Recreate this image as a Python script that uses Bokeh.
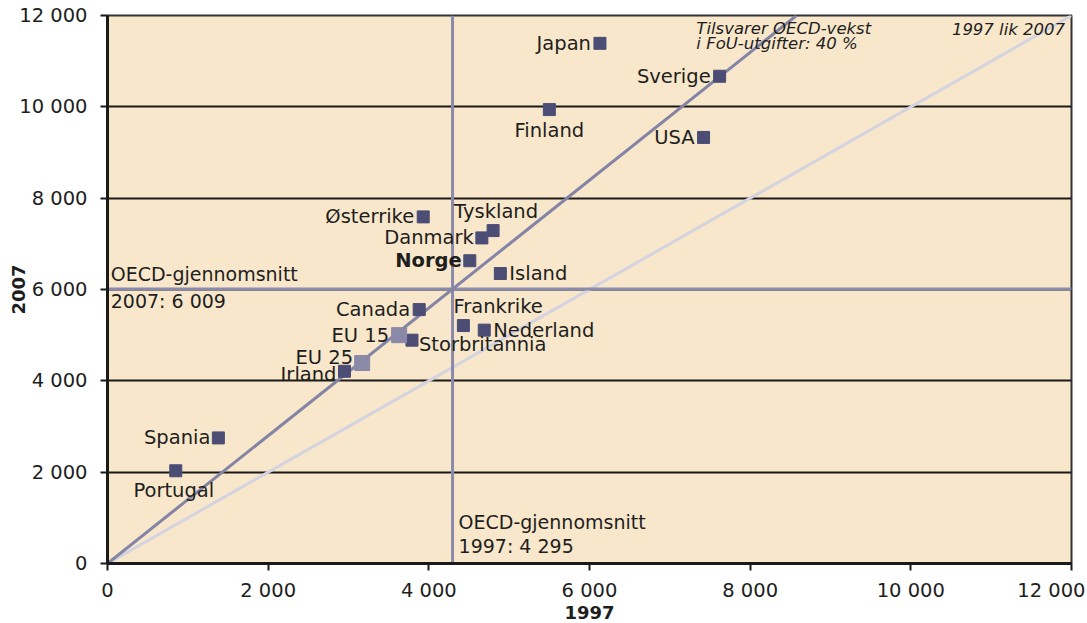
import math
from bokeh.plotting import figure
from bokeh.models import FixedTicker, ColumnDataSource, Label, Span, Slope, Range1d
from bokeh.core.properties import value
from bokeh.embed import file_html
from bokeh.resources import INLINE

# ---- data ----
countries = ["Japan", "Sverige", "Finland", "USA", "Østerrike", "Tyskland", "Danmark",
             "Norge", "Island", "Canada", "Frankrike", "Nederland", "Storbritannia",
             "Irland", "Spania", "Portugal"]
v1997 = [6130, 7620, 5500, 7420, 3930, 4800, 4660, 4510, 4890, 3880, 4430, 4690, 3790,
         2950, 1380, 850]
v2007 = [11390, 10670, 9940, 9330, 7590, 7290, 7130, 6630, 6350, 5560, 5210, 5110, 4890,
         4210, 2750, 2030]

eu_names = ["EU 15", "EU 25"]
eu_1997 = [3630, 3170]
eu_2007 = [5000, 4390]

oecd_1997 = 4295
oecd_2007 = 6009

ticks = [0, 2000, 4000, 6000, 8000, 10000, 12000]
tick_labels = ["0", "2 000", "4 000", "6 000", "8 000", "10 000", "12 000"]

# ---- label layout (screen offsets, alignment) ----
label_layout = {
    "Japan": (-9, 0, "right", "middle"),
    "Sverige": (-9, 0, "right", "middle"),
    "Finland": (0, 9, "center", "top"),
    "USA": (-9, 0, "right", "middle"),
    "Østerrike": (-9, 0, "right", "middle"),
    "Tyskland": (3, -8, "center", "bottom"),
    "Danmark": (-8, 0, "right", "middle"),
    "Norge": (-8, 0, "right", "middle"),
    "Island": (9, 0, "left", "middle"),
    "Canada": (-9, 0, "right", "middle"),
    "Frankrike": (-10, -8, "left", "bottom"),
    "Nederland": (9, 0, "left", "middle"),
    "Storbritannia": (7, 4, "left", "middle"),
    "Irland": (-8, 3, "right", "middle"),
    "Spania": (-8, 0, "right", "middle"),
    "Portugal": (-2, 8, "center", "top"),
    "EU 15": (-10, 0, "right", "middle"),
    "EU 25": (-9, -6, "right", "middle"),
}

FONT = "DejaVu Sans"
FS = "19.5px"
TEXT_COLOR = "#1e1e1e"
MARK = "#4b4d75"
EU_MARK = "#8a8aa8"
LINE = "#8a8aab"
EQUAL = "#d4d3e0"

p = figure(width=1085, height=621, output_backend="svg", toolbar_location=None,
           x_range=Range1d(0, 12000), y_range=Range1d(0, 12000),
           min_border_left=107, min_border_right=14, min_border_top=15, min_border_bottom=56)

p.background_fill_color = "#f8e7ca"
p.border_fill_color = "white"
p.outline_line_color = "#333333"
p.outline_line_width = 2

p.xgrid.visible = False
p.ygrid.ticker = FixedTicker(ticks=ticks)
p.ygrid.grid_line_color = "#1a1a1a"
p.ygrid.grid_line_width = 2

for ax in (p.xaxis[0], p.yaxis[0]):
    ax.ticker = FixedTicker(ticks=ticks)
    ax.major_label_overrides = {t: l for t, l in zip(ticks, tick_labels)}
    ax.axis_line_color = "#1a1a1a"
    ax.axis_line_width = 3
    ax.major_tick_line_color = "#1a1a1a"
    ax.major_tick_line_width = 2
    ax.major_tick_out = 7
    ax.major_tick_in = 0
    ax.minor_tick_line_color = None
    ax.major_label_text_font = FONT
    ax.major_label_text_font_size = FS
    ax.major_label_text_color = TEXT_COLOR
    ax.axis_label_text_font = FONT
    ax.axis_label_text_font_style = "bold"
    ax.axis_label_text_font_size = "18px"
    ax.axis_label_text_color = TEXT_COLOR

p.yaxis.major_label_standoff = 13
p.xaxis.major_label_standoff = 8
p.xaxis.axis_label = "1997"
p.xaxis.axis_label_standoff = 1
p.yaxis.axis_label = "2007"
p.yaxis.axis_label_standoff = -9

# reference lines
p.add_layout(Slope(gradient=1, y_intercept=0, line_color=EQUAL, line_width=3, level="underlay"))
p.add_layout(Span(location=oecd_1997, dimension="height", line_color=LINE, line_width=3, level="underlay"))
p.add_layout(Span(location=oecd_2007, dimension="width", line_color=LINE, line_width=3, level="underlay"))
p.add_layout(Slope(gradient=oecd_2007 / oecd_1997, y_intercept=0, line_color="#8384a6",
                   line_width=3, level="underlay"))

# markers
src = ColumnDataSource(dict(x=v1997, y=v2007, name=countries))
p.scatter("x", "y", source=src, marker="square", size=12, fill_color=MARK, line_color=MARK)
esrc = ColumnDataSource(dict(x=eu_1997, y=eu_2007, name=eu_names))
p.scatter("x", "y", source=esrc, marker="square", size=15, fill_color=EU_MARK, line_color=EU_MARK)

# labels
names = countries + eu_names
lx = v1997 + eu_1997
ly = v2007 + eu_2007
lsrc = ColumnDataSource(dict(
    x=lx, y=ly, text=names,
    dx=[label_layout[n][0] for n in names],
    dy=[label_layout[n][1] for n in names],
    align=[label_layout[n][2] for n in names],
    base=[label_layout[n][3] for n in names],
    style=["bold" if n == "Norge" else "normal" for n in names],
))
p.text("x", "y", text="text", source=lsrc, x_offset="dx", y_offset="dy",
       text_align="align", text_baseline="base", text_font_style="style",
       text_font=value(FONT), text_font_size=FS, text_color=TEXT_COLOR)

# annotations
def add_label(x, y, text, **kw):
    opts = dict(text_font=FONT, text_font_size="19px", text_color=TEXT_COLOR)
    opts.update(kw)
    p.add_layout(Label(x=x, y=y, text=text, **opts))

add_label(40, oecd_2007 + 327, "OECD-gjennomsnitt", text_baseline="middle")
add_label(40, oecd_2007 - 270, "2007: 6 009", text_baseline="middle")
add_label(oecd_1997 + 75, 916, "OECD-gjennomsnitt", text_baseline="middle")
add_label(oecd_1997 + 75, 393, "1997: 4 295", text_baseline="middle")
add_label(7330, 11716, "Tilsvarer OECD-vekst", text_font_style="italic",
          text_font_size="16.5px", text_baseline="middle")
add_label(7330, 11380, "i FoU-utgifter: 40 %", text_font_style="italic",
          text_font_size="16.5px", text_baseline="middle")
add_label(11920, 11700, "1997 lik 2007", text_font_style="italic",
          text_font_size="16.5px", text_baseline="middle", text_align="right")

open("out.html", "w").write(file_html(p, INLINE))
